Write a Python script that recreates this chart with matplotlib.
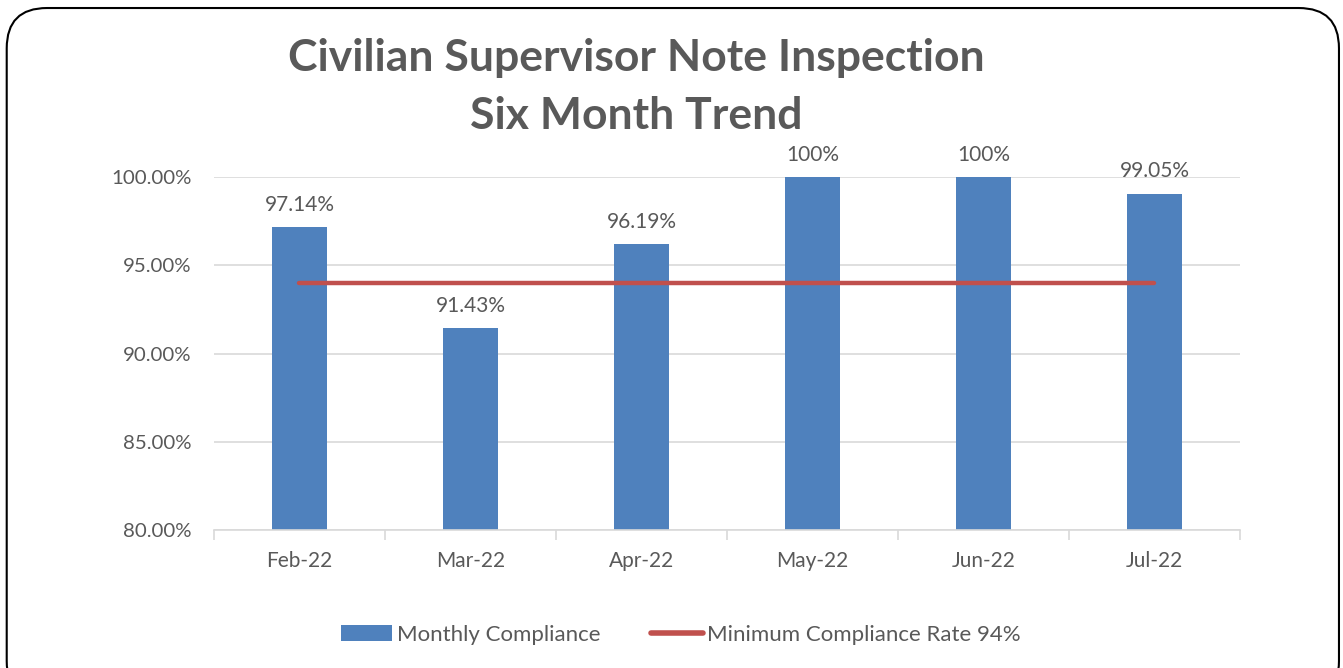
import numpy as np
import matplotlib
matplotlib.use("Agg")
import matplotlib.pyplot as plt
from matplotlib.patches import FancyBboxPatch
from matplotlib.lines import Line2D
from matplotlib.patches import Patch

plt.rcParams["font.family"] = ["Lato", "DejaVu Sans"]

# data
months = ["Feb-22", "Mar-22", "Apr-22", "May-22", "Jun-22", "Jul-22"]
compliance = [97.14, 91.43, 96.19, 100.0, 100.0, 99.05]
labels = ["97.14%", "91.43%", "96.19%", "100%", "100%", "99.05%"]
minimum = [94, 94, 94, 94, 94, 94]

BLUE = "#4F81BD"
RED = "#C0504D"
GREY = "#595959"

fig = plt.figure(figsize=(13.43, 6.68), dpi=100)
ax = fig.add_axes([0.1593, 0.2066, 0.764, 0.5284])

# rounded outer frame
frame = FancyBboxPatch((0.005, -0.05), 0.992, 1.038,
                       boxstyle="round,pad=0,rounding_size=0.03",
                       transform=fig.transFigure, facecolor="none",
                       edgecolor="black", linewidth=1.5,
                       mutation_aspect=13.43 / 6.68)
fig.patches.append(frame)

x = np.arange(len(months))
ax.bar(x, compliance, width=0.32, color=BLUE, zorder=3)
ax.plot(x, minimum, color=RED, linewidth=3.2, solid_capstyle="round", zorder=4)

for xi, v, s in zip(x, compliance, labels):
    ax.annotate(s, (xi, v), xytext=(0, 9), textcoords="offset points",
                ha="center", va="bottom", fontsize=15, color=GREY)

ax.set_xlim(-0.5, len(months) - 0.5)
ax.set_ylim(80, 100)
ax.set_yticks([80, 85, 90, 95, 100])
ax.set_yticklabels([f"{t:.2f}%" for t in [80, 85, 90, 95, 100]],
                   fontsize=14.7, color=GREY)
ax.set_xticks(x)
ax.set_xticklabels(months, fontsize=15, color=GREY)
ax.tick_params(axis="y", length=0, pad=16)
ax.tick_params(axis="x", length=0, pad=15)
# boundary tick marks on the category axis
ax.set_xticks(np.arange(-0.5, len(months)), minor=True)
ax.tick_params(axis="x", which="minor", length=7, color="#D9D9D9", width=1.2)

ax.grid(axis="y", color="#D9D9D9", linewidth=1.2, zorder=0)
for side in ["top", "right", "left"]:
    ax.spines[side].set_visible(False)
ax.spines["bottom"].set_color("#D9D9D9")
ax.spines["bottom"].set_linewidth(1.2)
ax.spines["bottom"].set_zorder(5)

fig.text(0.474, 0.913, "Civilian Supervisor Note Inspection", ha="center",
         va="center", fontsize=32, fontweight="bold", color=GREY)
fig.text(0.474, 0.826, "Six Month Trend", ha="center",
         va="center", fontsize=32, fontweight="bold", color=GREY)

handles = [Patch(facecolor=BLUE, edgecolor="none"),
           Line2D([0], [0], color=RED, linewidth=4, solid_capstyle="round")]
fig.legend(handles, ["Monthly Compliance", "Minimum Compliance Rate 94%"],
           loc="center", bbox_to_anchor=(0.507, 0.05), ncol=2, frameon=False,
           fontsize=16, labelcolor=GREY, handlelength=2.3, handletextpad=0.2,
           columnspacing=2.3)

fig.savefig("out.png", dpi=100)
